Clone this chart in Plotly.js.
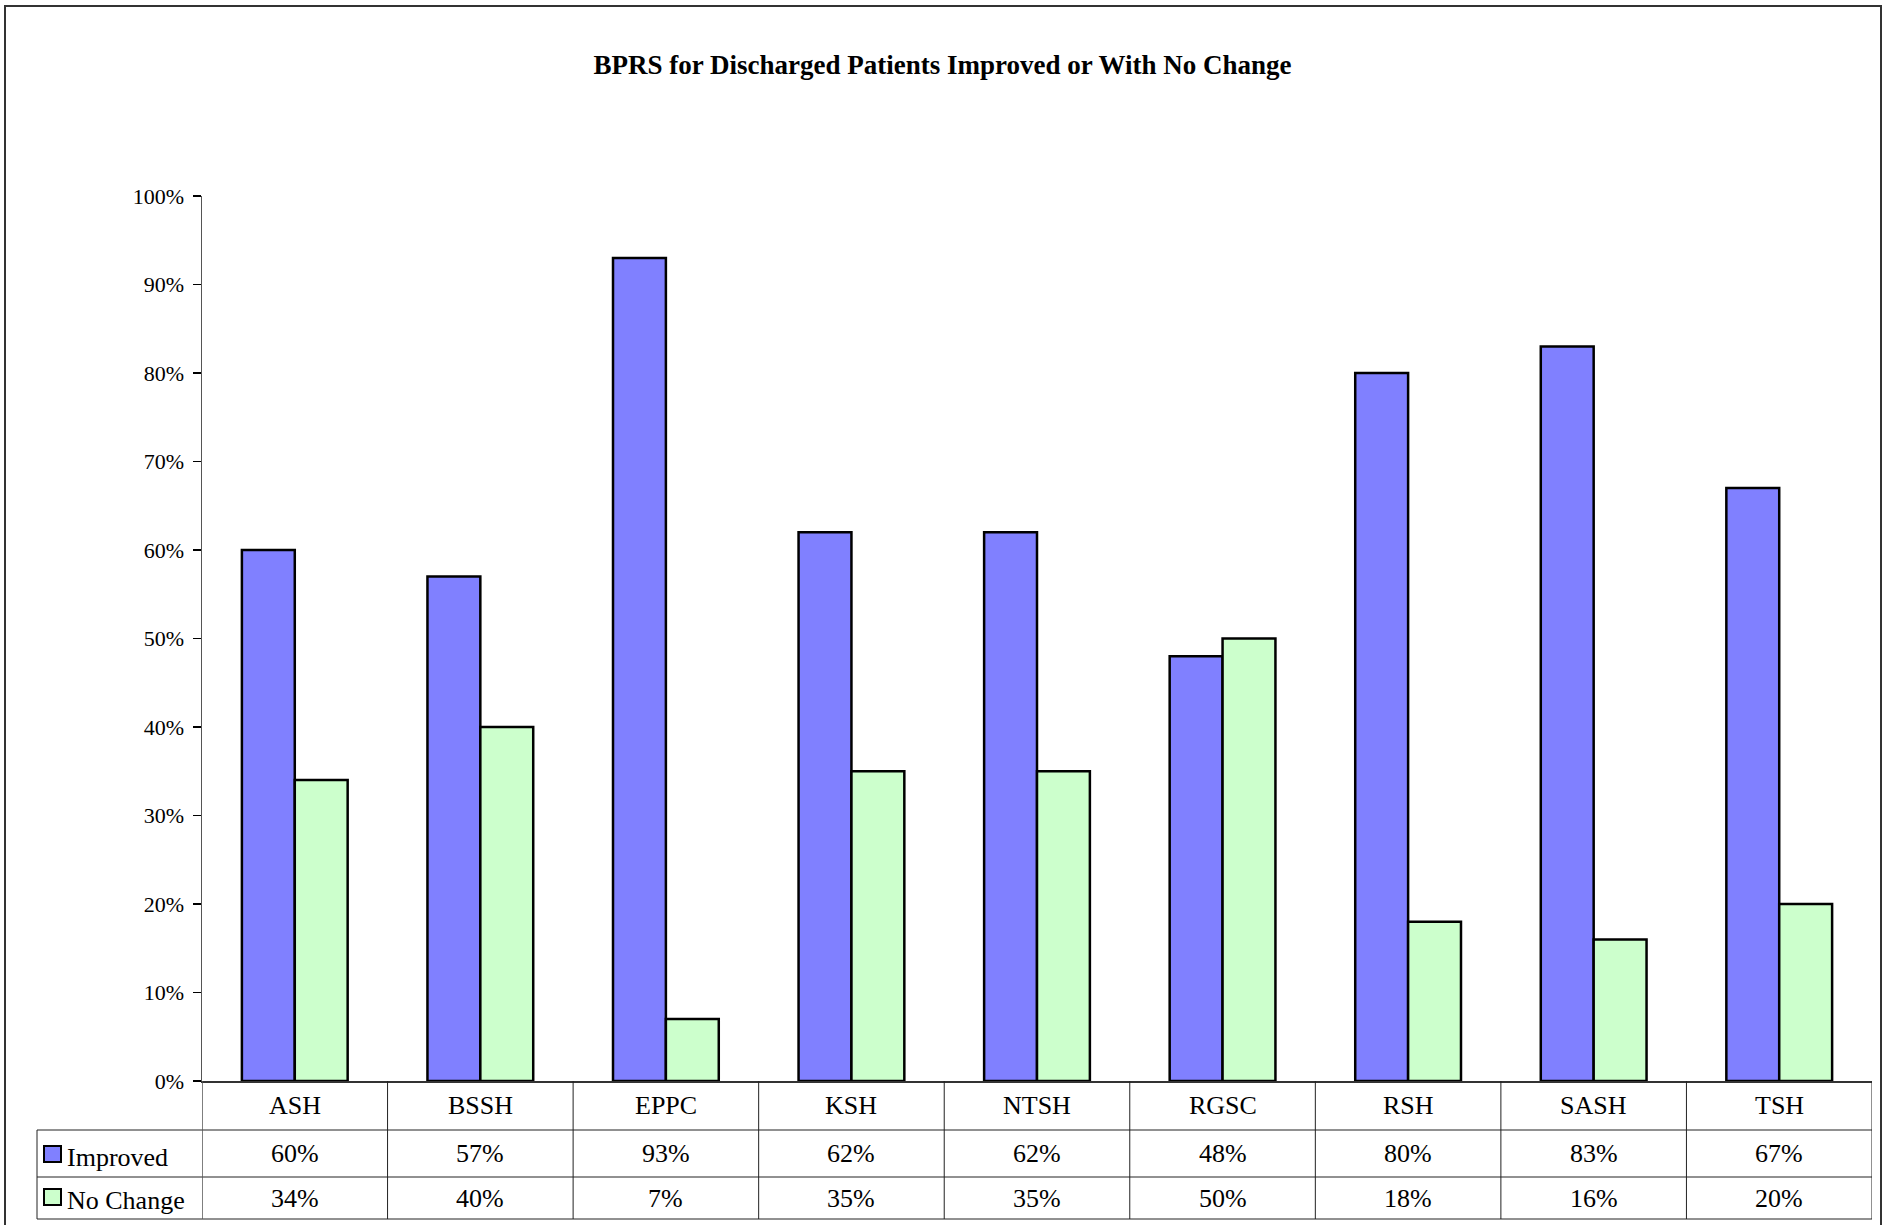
<!DOCTYPE html>
<html>
<head>
<meta charset="utf-8">
<script src="https://cdn.plot.ly/plotly-3.0.1.min.js"></script>
<style>html,body{margin:0;padding:0;background:#fff;}#chart{width:1885px;height:1225px;}</style>
</head>
<body>
<div id="chart"></div>
<script>
const categories = ["ASH", "BSSH", "EPPC", "KSH", "NTSH", "RGSC", "RSH", "SASH", "TSH"];
const improved = [60, 57, 93, 62, 62, 48, 80, 83, 67];
const noChange = [34, 40, 7, 35, 35, 50, 18, 16, 20];
const seriesNames = ["Improved", "No Change"];
const seriesColors = ["#8080FF", "#CCFFCC"];

const FONT = "Liberation Serif, Times New Roman, serif";
const H = 1225, T = 196, B = 144, PH = H - T - B;
const py = p => (T + PH - p) / PH; // pixel row -> paper y
const L = 202, R = 13, PW = 1885 - L - R;
const px = p => (p - L) / PW; // pixel col -> paper x

const traces = [
  {type: "bar", name: seriesNames[0], x: categories, y: improved,
   marker: {color: seriesColors[0], line: {color: "#000", width: 2.5}}, hoverinfo: "skip"},
  {type: "bar", name: seriesNames[1], x: categories, y: noChange,
   marker: {color: seriesColors[1], line: {color: "#000", width: 2.5}}, hoverinfo: "skip"}
];

const shapes = [];
const annotations = [];
const gridLine = {color: "#222", width: 1};

// outer frame
shapes.push({type: "rect", xref: "paper", yref: "paper", x0: px(5), x1: px(1881), y0: py(6), y1: py(1240),
  line: {color: "#333", width: 2}, layer: "below"});

// table rows
const rowY = [py(1130), py(1177), py(1219)];
rowY.forEach(y => shapes.push({type: "line", xref: "paper", yref: "paper", x0: px(37), x1: 1, y0: y, y1: y, line: gridLine}));
// vertical boundaries
for (let i = 0; i < categories.length; i++) {
  shapes.push({type: "line", xref: "x", yref: "paper", x0: i + 0.5, x1: i + 0.5, y0: 0, y1: rowY[2], line: gridLine});
}
shapes.push({type: "line", xref: "x", yref: "paper", x0: -0.5, x1: -0.5, y0: 0, y1: rowY[2], line: {color: "#555", width: 1.5}});
shapes.push({type: "line", xref: "paper", yref: "paper", x0: px(37), x1: px(37), y0: rowY[0], y1: rowY[2], line: gridLine});

// legend keys
const keyRows = [[1146, 1162], [1189, 1205]];
keyRows.forEach((r, k) => {
  shapes.push({type: "rect", xref: "paper", yref: "paper", x0: px(44), x1: px(61), y0: py(r[1]), y1: py(r[0]),
    fillcolor: seriesColors[k], line: {color: "#000", width: 2}});
  annotations.push({xref: "paper", yref: "paper", x: px(65), y: py((r[0] + r[1]) / 2 + 3), xanchor: "left", yanchor: "middle",
    text: seriesNames[k], showarrow: false, font: {family: FONT, size: 26, color: "#000"}});
});

// table cells
const rowCenters = [py(1105), py(1153), py(1198)];
categories.forEach((c, i) => {
  annotations.push({xref: "x", yref: "paper", x: c, y: rowCenters[0], text: c, showarrow: false,
    xanchor: "center", yanchor: "middle", font: {family: FONT, size: 26, color: "#000"}});
  annotations.push({xref: "x", yref: "paper", x: c, y: rowCenters[1], text: improved[i] + "%", showarrow: false,
    xanchor: "center", yanchor: "middle", font: {family: FONT, size: 26, color: "#000"}});
  annotations.push({xref: "x", yref: "paper", x: c, y: rowCenters[2], text: noChange[i] + "%", showarrow: false,
    xanchor: "center", yanchor: "middle", font: {family: FONT, size: 26, color: "#000"}});
});

const layout = {
  width: 1885, height: 1225,
  margin: {l: L, r: R, t: T, b: B},
  paper_bgcolor: "#fff", plot_bgcolor: "#fff",
  showlegend: false,
  barmode: "group", bargap: 0.43, bargroupgap: 0,
  title: {text: "<b>BPRS for Discharged Patients Improved or With No Change</b>",
    font: {family: FONT, size: 27, color: "#000"}, x: 0.5, xanchor: "center", xref: "container",
    y: 1 - 65 / 1225, yanchor: "middle", yref: "container"},
  xaxis: {type: "category", showticklabels: false, ticks: "", showgrid: false, zeroline: false,
    showline: true, linecolor: "#333", linewidth: 2, range: [-0.5, 8.5], fixedrange: true},
  yaxis: {range: [0, 100], dtick: 10, ticksuffix: "%", ticks: "outside", ticklen: 8, tickwidth: 1.5, tickcolor: "#000",
    showgrid: false, zeroline: false, showline: true, linecolor: "#555", linewidth: 1.5,
    ticklabelstandoff: 4,
    tickfont: {family: FONT, size: 22, color: "#000"}, fixedrange: true},
  shapes: shapes,
  annotations: annotations
};

Plotly.newPlot("chart", traces, layout, {displayModeBar: false, staticPlot: true});
</script>
</body>
</html>
